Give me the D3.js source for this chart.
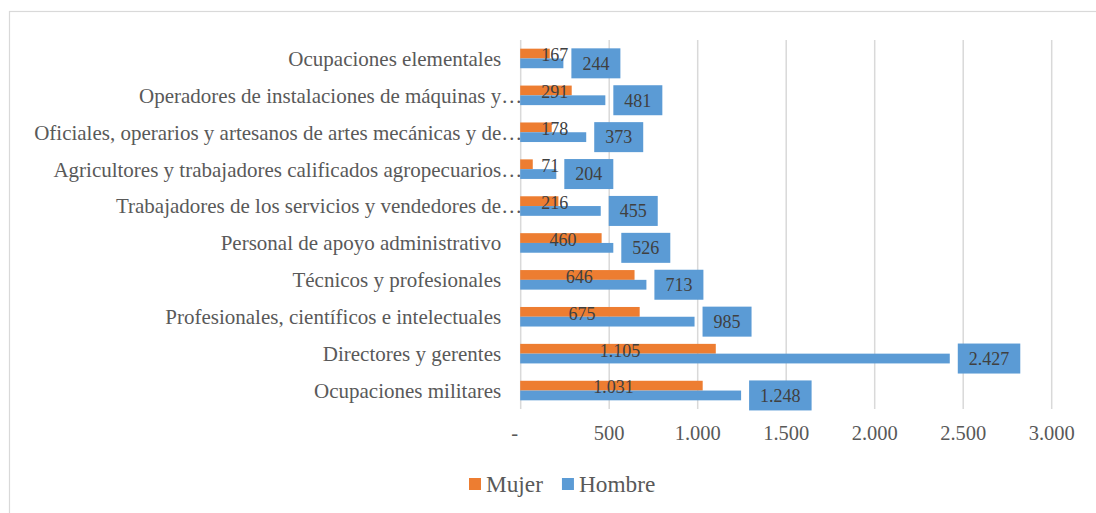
<!DOCTYPE html>
<html>
<head>
<meta charset="utf-8">
<script src="https://cdn.jsdelivr.net/npm/d3@7"></script>
<style>
  body { margin: 0; background: #fff; }
  text { font-family: "Liberation Serif", "Times New Roman", serif; }
</style>
</head>
<body>
<script>
// data, top to bottom as in the picture
var categories = [
  "Ocupaciones elementales",
  "Operadores de instalaciones de máquinas y…",
  "Oficiales, operarios y artesanos de artes mecánicas y de…",
  "Agricultores y trabajadores calificados agropecuarios…",
  "Trabajadores de los servicios y vendedores de…",
  "Personal de apoyo administrativo",
  "Técnicos y profesionales",
  "Profesionales, científicos e intelectuales",
  "Directores y gerentes",
  "Ocupaciones militares"
];
var mujer  = [167, 291, 178, 71, 216, 460, 646, 675, 1105, 1031];
var hombre = [244, 481, 373, 204, 455, 526, 713, 985, 2427, 1248];
var seriesNames = ["Mujer", "Hombre"];
var seriesColors = ["#ED7D31", "#5B9BD5"];
var tickValues = [0, 500, 1000, 1500, 2000, 2500, 3000];

// 1. size
var outWidth = 1096, outHeight = 513;
var x0 = 520.2, x1 = 1051.2, y0 = 40, y1 = 409;

var locale = d3.formatLocale({decimal: ",", thousands: ".", grouping: [3], currency: ["", ""]});
var fmt = function(v) { return v === 0 ? "-" : locale.format(",")(v); };

// 2. scales
var xScale = d3.scaleLinear().domain([0, 3000]).range([x0, x1]);
var yScale = d3.scaleBand().domain(categories).range([y0, y1])
  .paddingInner(0.47).paddingOuter(0.235);
var ySub = d3.scaleBand().domain(seriesNames).range([0, yScale.bandwidth()]);

var svg = d3.select("body").append("svg")
  .attr("width", outWidth)
  .attr("height", outHeight);

// chart border (only top and left inside the crop)
svg.append("rect")
  .attr("x", 9.5).attr("y", 11.5)
  .attr("width", 1200).attr("height", 600)
  .attr("fill", "none")
  .attr("stroke", "#D9D9D9")
  .attr("stroke-width", 1.2);

// 3. grid + x axis
var xAxis = d3.axisBottom(xScale).tickValues(tickValues).tickFormat(fmt).tickSize(-(y1 - y0)).tickPadding(16);
var gx = svg.append("g")
  .attr("transform", "translate(0," + y1 + ")")
  .call(xAxis);
gx.select(".domain").remove();
gx.selectAll("line").attr("stroke", "#D9D9D9").attr("stroke-width", 1.5);
gx.selectAll("text")
  .attr("fill", "#595959")
  .style("font-size", "20.5px")
  .attr("dy", "0.75em")
  .attr("dx", function(d) { return d === 0 ? -6 : 0; });

// y labels (truncated ones hang further right, like excel does)
var yAxis = d3.axisLeft(yScale).tickSize(0).tickPadding(19);
var gy = svg.append("g")
  .attr("transform", "translate(" + x0 + ",0)")
  .call(yAxis);
gy.select(".domain").remove();
gy.selectAll("text")
  .attr("fill", "#595959")
  .style("font-size", "21px")
  .attr("dy", "0.35em")
  .attr("x", function(d) { return d.slice(-1) === "…" ? 2 : -19; });

// 4. bars
var rows = categories.map(function(c, i) {
  return {cat: c, vals: [{s: "Mujer", v: mujer[i]}, {s: "Hombre", v: hombre[i]}]};
});
var color = d3.scaleOrdinal().domain(seriesNames).range(seriesColors);

var group = svg.selectAll(".row")
  .data(rows)
  .enter().append("g")
  .attr("class", "row")
  .attr("transform", function(d) { return "translate(0," + yScale(d.cat) + ")"; });

group.selectAll("rect.bar")
  .data(function(d) { return d.vals; })
  .enter().append("rect")
  .attr("class", "bar")
  .attr("x", xScale(0))
  .attr("y", function(d) { return ySub(d.s); })
  .attr("width", function(d) { return xScale(d.v) - xScale(0); })
  .attr("height", ySub.bandwidth())
  .attr("fill", function(d) { return color(d.s); });

// mujer labels, centered in bar (pushed right when bar is short)
group.append("text")
  .style("font-size", "18px")
  .attr("fill", "#404040")
  .attr("dy", "0.35em")
  .attr("y", ySub("Mujer") + ySub.bandwidth() / 2 + 1.5)
  .text(function(d) { return fmt(d.vals[0].v); })
  .attr("x", function(d) {
    var w = this.getComputedTextLength();
    return Math.max(xScale(d.vals[0].v / 2) + 2 - w / 2, xScale(0) + 21);
  });

// hombre labels in blue boxes right of the bar
var hl = group.append("g")
  .attr("transform", function(d) {
    return "translate(" + (xScale(d.vals[1].v) + 8) + "," + (ySub("Hombre") + ySub.bandwidth() / 2) + ")";
  });
hl.append("rect").attr("fill", "#5B9BD5").attr("y", -15).attr("height", 30);
var hlText = hl.append("text")
  .style("font-size", "18px")
  .attr("fill", "#404040")
  .attr("dy", "0.35em")
  .attr("x", 11)
  .text(function(d) { return fmt(d.vals[1].v); });
hlText.each(function() {
  var w = this.getComputedTextLength();
  d3.select(this.parentNode).select("rect").attr("width", w + 22);
});

// 5. legend
var legend = svg.append("g").attr("class", "legend");
var lx = 469;
seriesNames.forEach(function(s) {
  var item = legend.append("g").attr("transform", "translate(" + lx + ",0)");
  item.append("rect")
    .attr("x", 0).attr("y", 478)
    .attr("width", 12).attr("height", 12)
    .attr("fill", color(s));
  var t = item.append("text")
    .attr("x", 17).attr("y", 492.3)
    .style("font-size", "23.3px")
    .attr("fill", "#595959")
    .text(s);
  lx += 17 + t.node().getComputedTextLength() + 19;
});
</script>
</body>
</html>
